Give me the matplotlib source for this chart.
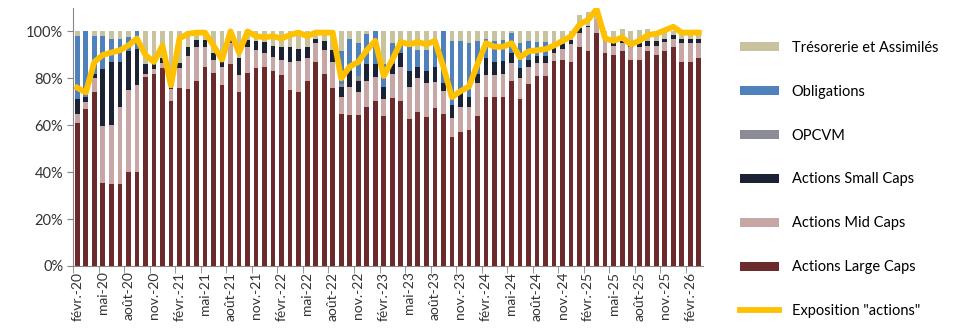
import numpy as np
import matplotlib.pyplot as plt
from matplotlib.patches import Patch
from matplotlib.lines import Line2D

plt.rcParams['font.family'] = ['Lato', 'DejaVu Sans']

# fin de mois, févr. 2020 -> mars 2026 (74 mois)
large_caps = [61, 67, 74, 35.5, 35, 35, 40, 40, 80.5, 82, 84.5, 70.5, 76, 75.5, 79, 85,
              82.5, 77, 86, 74, 82.5, 84.5, 85, 83, 81.5, 75, 74, 79, 87, 82, 76, 65,
              64.5, 64.5, 68, 70.5, 64, 71.5, 70.5, 62.5, 65.5, 63.5, 67.5, 65, 55, 57, 58, 64,
              72, 72, 72, 79, 71, 77.5, 81, 81, 87.5, 88, 87, 93.5, 91.5, 99.5, 91, 90,
              91.5, 88, 88, 91.5, 90, 91.5, 93.5, 87, 87, 88.5]
mid_caps = [4, 3, 6, 24, 25, 33, 35, 37, 1.5, 2, 2, 5, 8.5, 14, 14.5, 8.5,
            5.5, 8, 9, 7.5, 11, 7.5, 6, 6, 6.5, 12, 13.5, 9.5, 8, 10, 11, 7,
            12, 9.5, 11, 10, 7, 10.5, 14.5, 14, 14.5, 14.5, 11, 9.5, 8, 11, 10, 14,
            9.5, 9.5, 10, 7.5, 9, 7.5, 5.5, 5.5, 3.5, 4.5, 7.5, 6, 10.5, 6, 5, 4,
            3.5, 5.5, 5.5, 2.5, 4, 4, 3.5, 8, 8, 6.5]
small_caps = [6, 2, 2, 24.5, 27, 19, 16.5, 15.5, 4, 2, 2, 2, 2, 4, 3, 3,
              3, 2.5, 2.5, 7, 3, 4, 4.5, 5, 5.5, 6.5, 5, 5, 2, 4, 5, 4.5,
              6.5, 5, 7, 5.5, 5.5, 4, 6, 6.5, 5, 5, 6.5, 3.5, 5.5, 6, 4, 4,
              7, 5.5, 5.5, 4.5, 4.5, 3, 3, 3, 2, 2, 2, 2, 0.5, 0, 1, 1,
              1, 1, 1.5, 2, 2, 1.5, 1.5, 2, 2, 2]
opcvm = [0, 0, 0, 0, 0, 0, 0, 0, 0, 0, 0, 0, 0, 0, 0, 0,
         0, 0, 0, 0, 0, 0, 0, 0, 0, 0, 0, 0, 0, 0, 0, 1,
         0, 2, 0, 0, 0, 0, 0, 0, 0, 0, 0, 0, 0, 0, 0, 0,
         0, 0, 0, 0, 0, 0, 0, 0, 0, 0, 0, 0, 0, 0, 0, 0,
         0, 0, 0, 0, 0, 0, 0, 0, 0, 0]
obligations = [27, 28, 16, 14, 10, 10, 6, 7.5, 0, 0, 0, 0, 0, 0, 0, 0,
               0, 0, 0, 0, 0, 0, 0, 0, 0, 0, 0, 0, 0, 0, 0, 14,
               14, 14, 13, 14, 9.5, 9, 5.5, 11, 7, 9, 9, 22, 27.5, 22, 23, 14,
               8.5, 9, 9, 8.5, 10.5, 8, 6, 6, 2, 1, 0, 0, 0, 0, 0, 0,
               0, 0, 0, 0, 0, 0, 0, 0, 0, 0]
tresorerie = [2, 0, 2, 2, 3, 3, 2.5, 0, 14, 14, 11.5, 22.5, 13.5, 6.5, 3.5, 3.5,
              9, 12.5, 2.5, 11.5, 3.5, 4, 4.5, 6, 6.5, 6.5, 7.5, 6.5, 3, 4, 8, 8.5,
              3, 5, 1, 0, 14, 5, 3.5, 6, 8, 8, 6, 0, 4, 4, 5, 4,
              3, 4, 3.5, 0.5, 5, 4, 4.5, 4.5, 5, 4.5, 3.5, 5.5, 6, 3.5, 3, 5,
              5, 5.5, 5.5, 5, 4, 3, 1.5, 3, 3, 3]
exposition = [76, 74, 87, 90, 91, 92, 94, 97, 90, 87, 94, 77, 97, 99, 99.5, 99.5,
              94, 88, 100, 91, 100, 98, 97.5, 98, 97, 98.5, 99.5, 98, 99.5, 99.5, 99.5, 80,
              85, 87, 92, 96, 81, 88, 95.5, 94.5, 95.5, 94.5, 96, 85, 72, 74.5, 76.5, 86,
              95, 93.5, 93.5, 95, 89, 91.5, 92, 92.5, 94, 96, 98, 103, 105, 109.5, 97, 96,
              97.5, 94.5, 96, 98.5, 99, 100.5, 102, 99.5, 99.5, 99.5]

tick_labels = ['févr.-20', 'mai-20', 'août-20', 'nov.-20', 'févr.-21', 'mai-21', 'août-21',
               'nov.-21', 'févr.-22', 'mai-22', 'août-22', 'nov.-22', 'févr.-23', 'mai-23',
               'août-23', 'nov.-23', 'févr.-24', 'mai-24', 'août-24', 'nov.-24', 'févr.-25',
               'mai-25', 'août-25', 'nov.-25', 'févr.-26']

series = [
    ('Actions Large Caps', large_caps, '#6B2A2C'),
    ('Actions Mid Caps', mid_caps, '#C7A7A5'),
    ('Actions Small Caps', small_caps, '#1A2233'),
    ('OPCVM', opcvm, '#8C8C96'),
    ('Obligations', obligations, '#4F81BD'),
    ('Trésorerie et Assimilés', tresorerie, '#C9C29E'),
]

x = np.arange(len(large_caps))

fig = plt.figure(figsize=(9.66, 3.34), dpi=100)
ax = fig.add_axes([0.0756, 0.2036, 0.6522, 0.7724])

bottom = np.zeros(len(x))
for name, vals, col in series:
    vals = np.array(vals, dtype=float)
    ax.bar(x, vals, bottom=bottom, width=0.55, color=col, linewidth=0)
    bottom += vals

ax.plot(x, exposition, color='#FFC000', linewidth=4.2, solid_joinstyle='round')

ax.set_xlim(-0.5, len(x) - 0.5)
ax.set_ylim(0, 110)
ax.set_yticks(range(0, 101, 20))
ax.set_yticklabels([f'{v}%' for v in range(0, 101, 20)], fontsize=10.5, color='#333333')

# libellés tous les 3 mois, traits de graduation entre les barres
ax.set_xticks(x[::3])
ax.set_xticklabels(tick_labels, rotation=90, fontsize=10, color='#333333')
ax.tick_params(axis='x', length=0, pad=4)
ax.set_xticks(x[::3] - 0.5, minor=True)
ax.tick_params(axis='x', which='minor', length=5, color='#868686')
ax.tick_params(axis='y', length=4, color='#868686', pad=3)

for s in ['top', 'right']:
    ax.spines[s].set_visible(False)
for s in ['left', 'bottom']:
    ax.spines[s].set_color('#868686')

handles = [Patch(facecolor=col, edgecolor='none') for name, vals, col in series[::-1]]
labels = [name for name, vals, col in series[::-1]]
handles.append(Line2D([0], [0], color='#FFC000', linewidth=4.2))
labels.append('Exposition "actions"')

fig.legend(handles, labels, loc='center left', bbox_to_anchor=(0.766, 0.4626),
           frameon=False, fontsize=10.5, borderpad=0, borderaxespad=0,
           labelspacing=2.05, handlelength=2.7, handleheight=0.6, handletextpad=0.85)

fig.savefig('out.png', dpi=100)
